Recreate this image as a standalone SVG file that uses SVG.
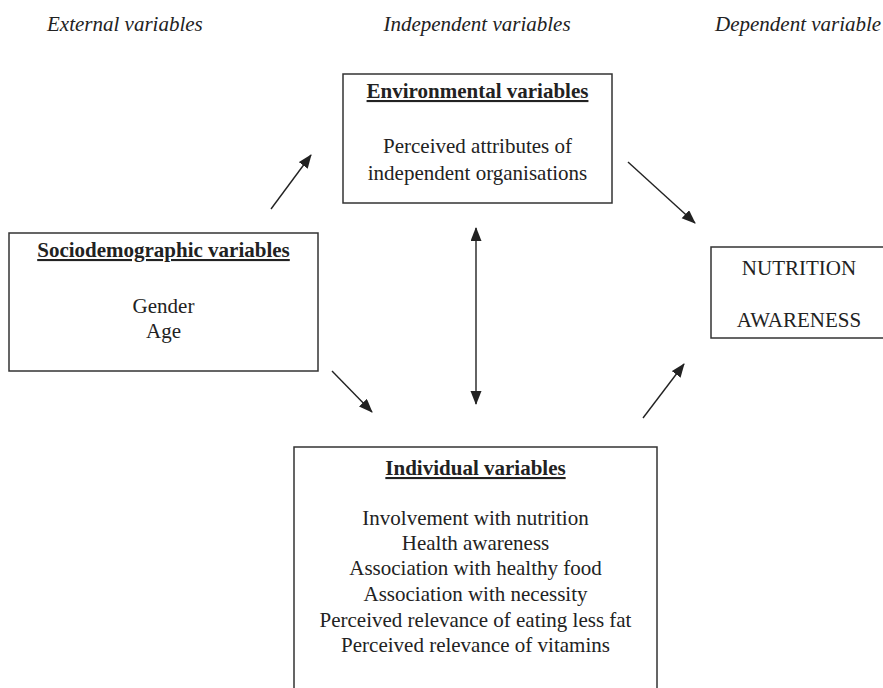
<svg xmlns="http://www.w3.org/2000/svg" width="883" height="688" viewBox="0 0 883 688">
<style>
text{font-family:"Liberation Serif","Times New Roman",serif;font-size:21px;fill:#222;}
.hdr{font-style:italic;}
.ttl{font-weight:bold;text-decoration:underline;}
.c{text-anchor:middle;}
.box{fill:#fff;stroke:#333;stroke-width:1.5;}
.arr{stroke:#222;stroke-width:1.4;fill:none;marker-end:url(#ah);}
</style>
<defs>
<marker id="ah" markerUnits="userSpaceOnUse" markerWidth="14" markerHeight="12" refX="13" refY="5.5" orient="auto-start-reverse">
<path d="M0,0 L14,5.5 L0,11 z" fill="#222"/>
</marker>
</defs>
<rect width="883" height="688" fill="#fff"/>
<g id="headers">
<text class="hdr" x="47" y="31">External variables</text>
<text class="hdr c" x="477" y="31">Independent variables</text>
<text class="hdr" x="715" y="31">Dependent variable</text>
</g>
<g id="environmental">
<rect class="box" x="343" y="74" width="269" height="129"/>
<text class="ttl c" x="477.5" y="98">Environmental variables</text>
<text class="c" x="477.5" y="153">Perceived attributes of</text>
<text class="c" x="477.5" y="180">independent organisations</text>
</g>
<g id="sociodemographic">
<rect class="box" x="9" y="233" width="309" height="138"/>
<text class="ttl c" x="163.5" y="257">Sociodemographic variables</text>
<text class="c" x="163.5" y="313">Gender</text>
<text class="c" x="163.5" y="338">Age</text>
</g>
<g id="nutrition">
<rect class="box" x="711" y="247" width="180" height="91"/>
<text class="c" x="799" y="275">NUTRITION</text>
<text class="c" x="799" y="327">AWARENESS</text>
</g>
<g id="individual">
<rect class="box" x="294" y="447" width="363" height="250"/>
<text class="ttl c" x="475.5" y="475">Individual variables</text>
<text class="c" x="475.5" y="525">Involvement with nutrition</text>
<text class="c" x="475.5" y="550">Health awareness</text>
<text class="c" x="475.5" y="575">Association with healthy food</text>
<text class="c" x="475.5" y="601">Association with necessity</text>
<text class="c" x="475.5" y="627">Perceived relevance of eating less fat</text>
<text class="c" x="475.5" y="652">Perceived relevance of vitamins</text>
</g>
<g id="connectors">
<line class="arr" x1="271" y1="209" x2="311" y2="155"/>
<line class="arr" x1="332" y1="371" x2="372" y2="412"/>
<line class="arr" x1="628" y1="162" x2="695" y2="223"/>
<line class="arr" x1="643" y1="418" x2="684" y2="364"/>
<line class="arr" x1="476" y1="228" x2="476" y2="404" style="marker-start:url(#ah)"/>
</g>
</svg>
